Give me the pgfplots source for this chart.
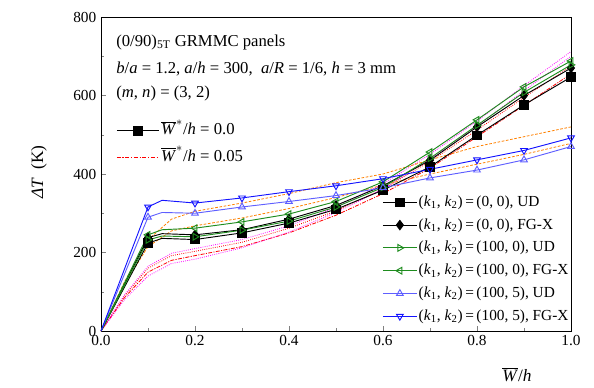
\documentclass[border=0pt]{standalone}
\usepackage{fontspec}
\setmainfont{Liberation Serif}
\usepackage{pgfplots}
\pgfplotsset{compat=1.18}
\usepackage{pgfplotstable}
\usetikzlibrary{calc}

\definecolor{cgreen}{RGB}{30,140,30}
\definecolor{cblueL}{RGB}{95,95,255}
\definecolor{cblue}{RGB}{20,20,255}
\definecolor{corange}{RGB}{255,128,0}
\definecolor{cred}{RGB}{255,0,0}
\definecolor{cmag}{RGB}{255,0,255}

% solid curves, W/h = 0.0
\pgfplotstableread{
x     bUD  bFG  gUD  gFG  lUD  lFG
0     0    0    0    0    0    0
0.1   224  238  232  245  290  316
0.13  236  248  242  258  302  333
0.2   233  245  240  262  300  326
0.3   250  258  257  278  316  339
0.4   275  285  280  298  330  355
0.5   310  320  316  330  345  370
0.6   359  370  366  380  365  388
0.7   418  435  440  456  390  412
0.8   499  520  524  538  410  436
0.9   576  600  608  622  436  460
1.0   647  670  678  688  470  492
}\solid

% dashed curves, W/h = 0.05
\pgfplotstableread{
x     rUD  rFG  mUD  mFG  oUD  oFG
0     0    0    0    0    0    0
0.05  85   90   80   92   120  125
0.1   150  160  140  165  215  232
0.15  180  192  172  198  255  285
0.2   192  203  183  210  268  305
0.3   215  226  212  233  288  326
0.4   250  262  252  268  312  350
0.5   295  306  302  315  340  378
0.6   350  362  362  375  372  400
0.7   415  432  438  450  400  436
0.8   495  512  522  535  425  470
0.9   575  595  612  625  450  495
1.0   655  675  700  712  478  520
}\imperf

\begin{document}
\begin{tikzpicture}
\pgfplotsset{
  every axis/.append style={font=\fontsize{11.5}{13}\selectfont},
  mk/.style={mark indices={2,4,5,6,7,8,9,10,11,12}},
}
\begin{axis}[
  scale only axis, width=352.5pt, height=235.5pt,
  xmin=0, xmax=1, ymin=0, ymax=800,
  xtick={0,0.2,0.4,0.6,0.8,1}, minor xtick={0.1,0.3,0.5,0.7,0.9},
  ytick={0,200,400,600,800}, minor ytick={100,300,500,700},
  tick align=inside, xtick pos=bottom, ytick pos=left,
  major tick length=4pt, minor tick length=2.5pt,
  /pgf/number format/assume math mode=true,
  xticklabel style={/pgf/number format/.cd,fixed,fixed zerofill,precision=1},
  xlabel={$\overline{\mbox{\textit{W}}}$/\textit{h}},
  xlabel style={at={(axis description cs:0.885,-0.14)}, anchor=center, font=\fontsize{13}{15}\selectfont},
  ylabel={\textit{ΔT}\ \ (K)},
  ylabel style={at={(axis description cs:-0.132,0.506)}, anchor=center, font=\fontsize{13}{15}\selectfont},
  legend style={draw=none, fill=none, at={(rel axis cs:0.598,0.4405)}, anchor=north west,
    inner sep=0pt, row sep=3.1pt, nodes={inner sep=1pt, text height=9pt, text depth=3pt}},
  legend cell align=left,
  legend image code/.code={\draw[mark repeat=2,mark phase=2,#1] plot coordinates {(0cm,0cm) (0.45cm,0cm) (0.9cm,0cm)};},
]
% imperfect curves (no legend)
\addplot[forget plot, cred, line width=0.6pt, dash pattern=on 3pt off 1pt on 0.8pt off 1pt] table[x=x,y=rUD]{\imperf};
\addplot[forget plot, cred, line width=0.6pt, densely dotted] table[x=x,y=rFG]{\imperf};
\addplot[forget plot, cmag, line width=0.6pt, densely dotted] table[x=x,y=mUD]{\imperf};
\addplot[forget plot, cmag, line width=0.6pt, densely dotted] table[x=x,y=mFG]{\imperf};
\addplot[forget plot, corange, line width=0.6pt, dash pattern=on 2pt off 1.2pt] table[x=x,y=oUD]{\imperf};
\addplot[forget plot, corange, line width=0.6pt, dash pattern=on 2pt off 1.2pt] table[x=x,y=oFG]{\imperf};
% perfect curves
\addplot[black, line width=0.7pt, mark=square*, mark size=3.1pt, mark options={solid}, mk] table[x=x,y=bUD]{\solid};
\addlegendentry{(\textit{k}\textsubscript{1}, \textit{k}\textsubscript{2})\,=\,(0, 0), UD}
\addplot[black, line width=0.7pt, mark=diamond*, mark size=3.5pt, mark options={solid}, mk] table[x=x,y=bFG]{\solid};
\addlegendentry{(\textit{k}\textsubscript{1}, \textit{k}\textsubscript{2})\,=\,(0, 0), FG-X}
\addplot[cgreen, line width=0.7pt, mark=triangle, mark size=2.9pt, mark options={solid, fill=white, rotate=-90}, mk] table[x=x,y=gUD]{\solid};
\addlegendentry{(\textit{k}\textsubscript{1}, \textit{k}\textsubscript{2})\,=\,(100, 0), UD}
\addplot[cgreen, line width=0.7pt, mark=triangle, mark size=2.9pt, mark options={solid, fill=white, rotate=90}, mk] table[x=x,y=gFG]{\solid};
\addlegendentry{(\textit{k}\textsubscript{1}, \textit{k}\textsubscript{2})\,=\,(100, 0), FG-X}
\addplot[cblueL, line width=0.7pt, mark=triangle, mark size=2.9pt, mark options={solid, fill=white}, mk] table[x=x,y=lUD]{\solid};
\addlegendentry{(\textit{k}\textsubscript{1}, \textit{k}\textsubscript{2})\,=\,(100, 5), UD}
\addplot[cblue, line width=0.7pt, mark=triangle, mark size=2.9pt, mark options={solid, fill=white, rotate=180}, mk] table[x=x,y=lFG]{\solid};
\addlegendentry{(\textit{k}\textsubscript{1}, \textit{k}\textsubscript{2})\,=\,(100, 5), FG-X}

\node[anchor=base west, inner sep=0pt, font=\fontsize{12.5}{14}\selectfont] at (rel axis cs:0.032,0.9076) {(0/90)\textsubscript{5T} GRMMC panels};
\node[anchor=base west, inner sep=0pt, font=\fontsize{12.5}{14}\selectfont] at (rel axis cs:0.032,0.8185) {\textit{b}/\textit{a} = 1.2, \textit{a}/\textit{h} = 300, \ \textit{a}/\textit{R} = 1/6, \textit{h} = 3 mm};
\node[anchor=base west, inner sep=0pt, font=\fontsize{12.5}{14}\selectfont] at (rel axis cs:0.032,0.7452) {(\textit{m}, \textit{n}) = (3, 2)};
\end{axis}

\begin{axis}[
  scale only axis, width=352.5pt, height=235.5pt,
  xmin=0, xmax=1, ymin=0, ymax=1, hide axis,
  legend style={draw=none, fill=none, at={(rel axis cs:0.032,0.672)}, anchor=north west,
    inner sep=0pt, row sep=3.75pt, nodes={inner sep=1.5pt, text height=9.5pt, text depth=3.5pt},
    font=\fontsize{12.5}{14}\selectfont},
  legend cell align=left,
]
\addlegendimage{legend image code/.code={\draw[black, line width=0.7pt] (0cm,0cm) -- (1.1cm,0cm); \fill[black] (0.55cm,0cm) ++(-3.4pt,-3.4pt) rectangle ++(6.8pt,6.8pt);}}
\addlegendentry{$\overline{\mbox{\textit{W}}}^{*}$/\textit{h} = 0.0}
\addlegendimage{legend image code/.code={\draw[cred, line width=0.8pt, dash pattern=on 3pt off 1.2pt on 1pt off 1.2pt] (0cm,0cm) -- (1.1cm,0cm);}}
\addlegendentry{$\overline{\mbox{\textit{W}}}^{*}$/\textit{h} = 0.05}
\end{axis}

\path (current axis.south west) ++(-75.75pt,-42pt) rectangle ($(current axis.north east)+(17.25pt,12.75pt)$);
\end{tikzpicture}
\end{document}
